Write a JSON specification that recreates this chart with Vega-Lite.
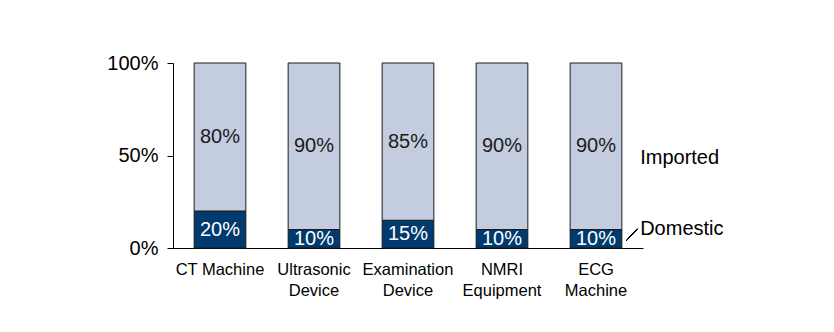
{
  "$schema": "https://vega.github.io/schema/vega-lite/v6.json",
  "width": 470,
  "height": 185,
  "autosize": {"type": "none"},
  "padding": {"left": 173, "top": 63, "right": 191, "bottom": 84},
  "background": "white",
  "config": {
    "view": {"stroke": null},
    "font": "Liberation Sans",
    "axis": {"grid": false, "domainColor": "black", "tickColor": "black", "labelColor": "black", "labelFont": "Liberation Sans"}
  },
  "data": {
    "values": [
      {"device": "CT Machine", "type": "Domestic", "order": 1, "value": 20, "label": "20%"},
      {"device": "CT Machine", "type": "Imported", "order": 2, "value": 80, "label": "80%"},
      {"device": "Ultrasonic Device", "type": "Domestic", "order": 1, "value": 10, "label": "10%"},
      {"device": "Ultrasonic Device", "type": "Imported", "order": 2, "value": 90, "label": "90%"},
      {"device": "Examination Device", "type": "Domestic", "order": 1, "value": 15, "label": "15%"},
      {"device": "Examination Device", "type": "Imported", "order": 2, "value": 85, "label": "85%"},
      {"device": "NMRI Equipment", "type": "Domestic", "order": 1, "value": 10, "label": "10%"},
      {"device": "NMRI Equipment", "type": "Imported", "order": 2, "value": 90, "label": "90%"},
      {"device": "ECG Machine", "type": "Domestic", "order": 1, "value": 10, "label": "10%"},
      {"device": "ECG Machine", "type": "Imported", "order": 2, "value": 90, "label": "90%"}
    ]
  },
  "layer": [
    {
      "layer": [
        {
          "mark": {"type": "bar", "stroke": "#1a1a1a", "strokeWidth": 1},
          "encoding": {
            "x": {
              "field": "device", "type": "nominal", "sort": null,
              "scale": {"paddingInner": 0.45, "paddingOuter": 0.225},
              "axis": {
                "title": null, "domain": true, "ticks": false, "labelAngle": 0,
                "labelFontSize": 16.5, "labelPadding": 13, "labelLineHeight": 21,
                "labelExpr": "datum.label == 'CT Machine' ? datum.label : split(datum.label, ' ')"
              }
            },
            "y": {
              "field": "value", "type": "quantitative", "stack": "zero",
              "scale": {"domain": [0, 100]},
              "axis": {
                "title": null, "values": [0, 50, 100], "tickSize": 6,
                "labelFontSize": 20, "labelPadding": 9,
                "labelExpr": "datum.value + '%'"
              }
            },
            "order": {"field": "order", "type": "quantitative"},
            "color": {
              "field": "type", "type": "nominal",
              "scale": {"domain": ["Domestic", "Imported"], "range": ["#003a6f", "#c4cde0"]},
              "legend": null
            }
          }
        },
        {
          "mark": {"type": "text", "fontSize": 20, "baseline": "middle", "align": "center"},
          "encoding": {
            "x": {"field": "device", "type": "nominal", "sort": null},
            "y": {"field": "value", "type": "quantitative", "stack": "zero", "bandPosition": 0.5},
            "order": {"field": "order", "type": "quantitative"},
            "text": {"field": "label"},
            "color": {
              "field": "type", "type": "nominal",
              "scale": {"domain": ["Domestic", "Imported"], "range": ["white", "#1a1a1a"]},
              "legend": null
            }
          }
        }
      ],
      "resolve": {"scale": {"color": "independent"}}
    },
    {
      "data": {"values": [{"label": "Imported", "pos": 0.486}, {"label": "Domestic", "pos": 0.103}]},
      "mark": {"type": "text", "align": "left", "baseline": "middle", "fontSize": 20, "color": "black"},
      "encoding": {
        "x": {"datum": 4.97, "type": "quantitative", "scale": {"domain": [0, 5]}, "axis": null},
        "y": {"field": "pos", "type": "quantitative", "scale": {"domain": [0, 1]}, "axis": null},
        "text": {"field": "label"}
      }
    },
    {
      "mark": {"type": "rule", "color": "black", "strokeWidth": 1},
      "encoding": {
        "x": {"datum": 4.82, "type": "quantitative", "scale": {"domain": [0, 5]}, "axis": null},
        "x2": {"datum": 4.94},
        "y": {"datum": 0.038, "type": "quantitative", "scale": {"domain": [0, 1]}, "axis": null},
        "y2": {"datum": 0.103}
      }
    }
  ],
  "resolve": {"scale": {"x": "independent", "y": "independent", "color": "independent"}}
}
